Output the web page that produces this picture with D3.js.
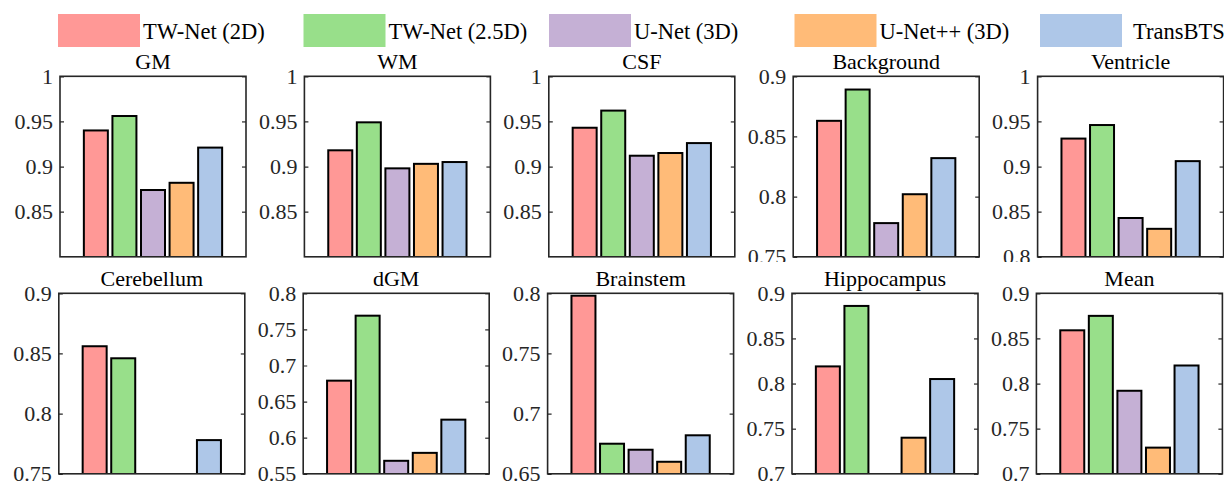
<!DOCTYPE html>
<html>
<head>
<meta charset="utf-8">
<script src="https://cdn.jsdelivr.net/npm/d3@7"></script>
<style>
  body { margin: 0; background: #ffffff; }
  svg { display: block; font-family: "Liberation Serif", "Times New Roman", serif; }
</style>
</head>
<body>
<div id="chart"></div>
<script>

// Models (legend order)
const models = ["TW-Net (2D)", "TW-Net (2.5D)", "U-Net (3D)", "U-Net++ (3D)", "TransBTS"];

// Regions (panel titles)
const regions = ["GM", "WM", "CSF", "Background", "Ventricle",
    "Cerebellum", "dGM", "Brainstem", "Hippocampus", "Mean"];

// Dice scores per region, one value per model
const gm = [0.940, 0.956, 0.874, 0.882, 0.921];
const wm = [0.918, 0.949, 0.898, 0.903, 0.905];
const csf = [0.943, 0.962, 0.912, 0.915, 0.926];
const background = [0.863, 0.889, 0.778, 0.802, 0.832];
const ventricle = [0.931, 0.946, 0.843, 0.831, 0.906];
const cerebellum = [0.856, 0.846, 0.735, 0.730, 0.778];
const dgm = [0.679, 0.769, 0.568, 0.579, 0.625];
const brainstem = [0.798, 0.675, 0.670, 0.660, 0.682];
const hippocampus = [0.819, 0.886, 0.680, 0.740, 0.805];
const mean = [0.859, 0.875, 0.792, 0.729, 0.820];

// Y range and tick labels of each panel
const yDomains = [[0.8, 1], [0.8, 1], [0.8, 1], [0.75, 0.9], [0.8, 1],
    [0.75, 0.9], [0.55, 0.8], [0.65, 0.8], [0.7, 0.9], [0.7, 0.9]];
const yTicks = [
    [0.85, 0.9, 0.95, 1],
    [0.85, 0.9, 0.95, 1],
    [0.85, 0.9, 0.95, 1],
    [0.75, 0.8, 0.85, 0.9],
    [0.8, 0.85, 0.9, 0.95, 1],
    [0.75, 0.8, 0.85, 0.9],
    [0.55, 0.6, 0.65, 0.7, 0.75, 0.8],
    [0.65, 0.7, 0.75, 0.8],
    [0.7, 0.75, 0.8, 0.85, 0.9],
    [0.7, 0.75, 0.8, 0.85, 0.9]
];

const series = [gm, wm, csf, background, ventricle, cerebellum, dgm, brainstem, hippocampus, mean];

// colours (tab20 light tones)
const colors = ["#ff9896", "#98df8a", "#c5b0d5", "#ffbb78", "#aec7e8"];

//---------------------------------------------------------------------------------------

// Canvas

const width = 1224;
const height = 485;
const panelW = 186;
const panelH = 180.5;
const colStep = 244.4;
const rowLeft = [60, 58.8];
const rowTop = [76.3, 293.3];
const labelCut = 262; // top row labels are hidden below this line
const axisColor = "#262626";

const svg = d3.select("#chart")
    .append("svg")
    .attr("width", width)
    .attr("height", height)
    .attr("viewBox", [0, 0, width, height]);

//---------------------------------------------------------------------------------------

// Legend

const legend = svg.append("g")
    .selectAll("g")
    .data(models)
    .join("g")
    .attr("transform", (d, i) => `translate(${58 + i * 245.5}, 0)`);

legend.append("rect")
    .attr("x", 0)
    .attr("y", 14)
    .attr("width", 82)
    .attr("height", 33)
    .attr("fill", (d, i) => colors[i]);

legend.append("text")
    .attr("x", (d, i) => i === 4 ? 93 : 85)
    .attr("y", 39)
    .attr("font-size", "22.5px")
    .attr("fill", "#000")
    .text(d => d);

//---------------------------------------------------------------------------------------

// Panels

regions.forEach((region, i) => {

    const row = Math.floor(i / 5);
    const col = i % 5;
    const left = rowLeft[row] + col * colStep;
    const top = rowTop[row];

    const g = svg.append("g")
        .attr("transform", `translate(${left}, ${top})`);

    // clip for the bars
    g.append("clipPath")
        .attr("id", `clip-${i}`)
        .append("rect")
        .attr("width", panelW)
        .attr("height", panelH);

    // clip for the top row tick labels
    g.append("clipPath")
        .attr("id", `clip-lab-${i}`)
        .append("rect")
        .attr("x", -80)
        .attr("y", -40)
        .attr("width", 80 + panelW)
        .attr("height", row === 0 ? labelCut - top + 40 : 400);

    const scaleX = d3.scaleBand()
        .domain(models)
        .range([panelW * 0.116, panelW * 0.884])
        .paddingInner(0.09)
        .paddingOuter(0.045);

    const scaleY = d3.scaleLinear()
        .domain(yDomains[i])
        .range([panelH, 0]);

    const data = models.map((m, k) => ({ model: m, value: series[i][k], col: colors[k] }));

    // bars, drawn from zero like MATLAB and clipped to the axes
    g.append("g")
        .attr("clip-path", `url(#clip-${i})`)
        .selectAll("rect")
        .data(data)
        .join("rect")
        .attr("x", d => scaleX(d.model) + 1)
        .attr("y", d => scaleY(d.value))
        .attr("width", scaleX.bandwidth() - 2)
        .attr("height", d => scaleY(0) - scaleY(d.value))
        .attr("fill", d => d.col)
        .attr("stroke", "#000")
        .attr("stroke-width", 2);

    // left axis, ticks pointing inward
    g.append("g")
        .attr("clip-path", `url(#clip-lab-${i})`)
        .call(d3.axisLeft(scaleY)
            .tickValues(yTicks[i])
            .tickSize(-4)
            .tickPadding(7)
            .tickFormat(d => d))
        .call(g => g.select(".domain").remove())
        .call(g => g.selectAll(".tick line").attr("stroke", axisColor).attr("stroke-width", 1.2))
        .call(g => g.selectAll(".tick text")
            .attr("font-size", "22px")
            .attr("font-family", "Liberation Serif, Times New Roman, serif")
            .attr("fill", axisColor));

    // right axis, ticks only
    g.append("g")
        .attr("transform", `translate(${panelW}, 0)`)
        .call(d3.axisRight(scaleY)
            .tickValues(yTicks[i])
            .tickSize(-4)
            .tickFormat(""))
        .call(g => g.select(".domain").remove())
        .call(g => g.selectAll(".tick line").attr("stroke", axisColor).attr("stroke-width", 1.2));

    // box
    g.append("rect")
        .attr("width", panelW)
        .attr("height", panelH)
        .attr("fill", "none")
        .attr("stroke", axisColor)
        .attr("stroke-width", 1.6);

    // title
    g.append("text")
        .attr("x", panelW / 2)
        .attr("y", -7)
        .attr("text-anchor", "middle")
        .attr("font-size", "22px")
        .attr("fill", "#000")
        .text(region);

});

</script>
</body>
</html>
